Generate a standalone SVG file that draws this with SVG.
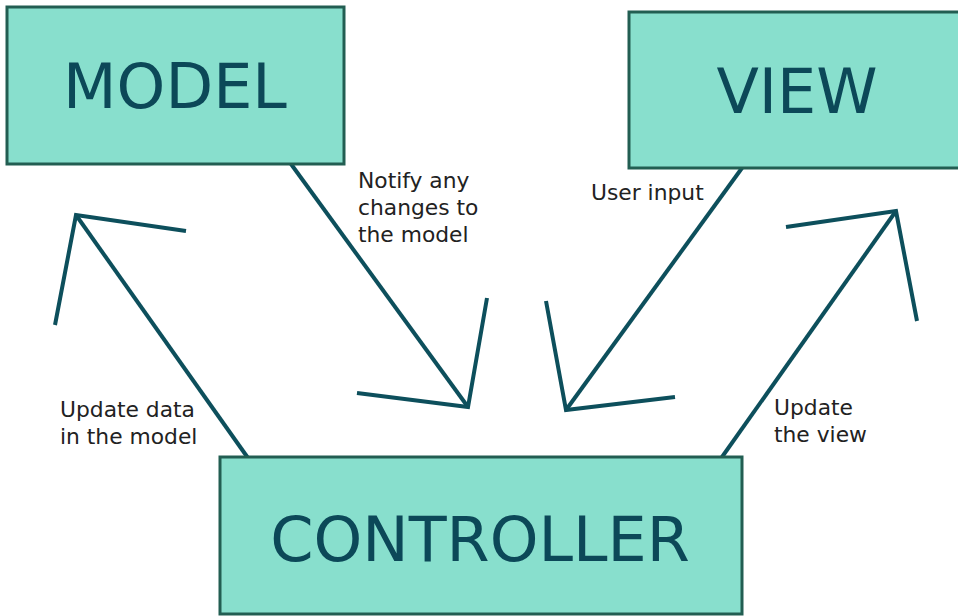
<svg xmlns="http://www.w3.org/2000/svg" width="958" height="616" viewBox="0 0 958 616">
<style>
.box{fill:#88dfcd;stroke:#225e52;stroke-width:3}
.title{font-family:"DejaVu Sans",sans-serif;font-size:62px;fill:#0c4858;text-anchor:middle}
.conn{fill:none;stroke:#0d4f5c;stroke-width:4;stroke-linejoin:miter;stroke-linecap:butt}
.lbl{font-family:"DejaVu Sans",sans-serif;font-size:21.8px;fill:#222}
</style>
<rect width="958" height="616" fill="#fff"/>
<g id="connectors">
<g id="c-update-data">
<line class="conn" x1="248" y1="458" x2="76" y2="215"/>
<polyline class="conn" points="186,231 76,215 55,325"/>
</g>
<g id="c-notify">
<line class="conn" x1="291" y1="164" x2="468" y2="407"/>
<polyline class="conn" points="357,393 468,407 487,298"/>
</g>
<g id="c-user-input">
<line class="conn" x1="742" y1="168" x2="566" y2="410"/>
<polyline class="conn" points="546,301 566,410 675,397"/>
</g>
<g id="c-update-view">
<line class="conn" x1="722" y1="457" x2="896" y2="211"/>
<polyline class="conn" points="786,227 896,211 917,321"/>
</g>
<text class="lbl" x="358" y="188">Notify any</text>
<text class="lbl" x="358" y="215">changes to</text>
<text class="lbl" x="358" y="242">the model</text>
<text class="lbl" x="591" y="200">User input</text>
<text class="lbl" x="60" y="417">Update data</text>
<text class="lbl" x="60" y="444">in the model</text>
<text class="lbl" x="774" y="415">Update</text>
<text class="lbl" x="774" y="442">the view</text>
</g>
<g id="model">
<rect class="box" x="7" y="7" width="337" height="157"/>
<text class="title" x="175" y="108">MODEL</text>
</g>
<g id="view">
<rect class="box" x="629" y="12" width="340" height="156"/>
<text class="title" x="797" y="113">VIEW</text>
</g>
<g id="controller">
<rect class="box" x="220" y="457" width="522" height="157"/>
<text class="title" x="480" y="561">CONTROLLER</text>
</g>
</svg>
